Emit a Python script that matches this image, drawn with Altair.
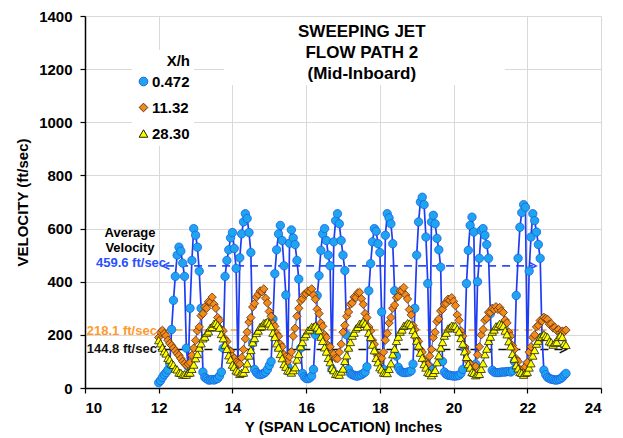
import altair as alt
import pandas as pd

# ---------------- data ----------------
series_labels = ["0.472", "11.32", "28.30"]
x_start = 12.0
x_step = 0.05

blue_v = [
    20, 28, 40, 50, 58, 68, 90, 220, 330, 420, 500, 530, 515, 470, 420, 150, 80, 300, 480, 600,
    575, 530, 440, 300, 60, 40, 35, 30, 30, 32, 30, 33, 36, 45, 60, 150, 420, 480, 520, 565,
    585, 525, 450, 90, 490, 580, 625, 656, 638, 585, 510, 170, 70, 58, 52, 50, 52, 55, 60, 70,
    85, 100, 260, 430, 520, 580, 612, 555, 460, 350, 80, 545, 595, 565, 540, 480, 410, 150, 55, 42,
    36, 35, 38, 45, 70, 200, 348, 423, 518, 580, 600, 555, 500, 460, 70, 550, 630, 656, 618, 555,
    500, 442, 200, 70, 55, 50, 48, 45, 45, 48, 50, 55, 60, 80, 366, 468, 550, 600, 590, 543,
    510, 286, 70, 575, 656, 640, 618, 543, 366, 120, 78, 65, 60, 58, 58, 60, 60, 65, 90, 300,
    500, 625, 700, 718, 690, 568, 393, 80, 625, 650, 618, 563, 520, 455, 100, 60, 52, 48, 48, 46,
    45, 45, 46, 48, 55, 70, 150, 393, 518, 612, 643, 587, 90, 400, 488, 593, 600, 575, 540, 488,
    280, 67, 60, 58, 58, 58, 60, 60, 60, 62, 62, 60, 65, 100, 348, 488, 605, 660, 690, 680,
    90, 440, 568, 656, 630, 587, 540, 488, 192, 67, 50, 40, 36, 33, 32, 30, 30, 32, 35, 40,
    48, 55,
]

orange_v = [
    190, 210, 217, 205, 197, 180, 168, 160, 150, 140, 130, 123, 111, 100, 92, 85, 90, 96, 123, 150,
    179, 215, 230, 272, 280, 305, 300, 325, 322, 342, 315, 300, 265, 255, 220, 215, 185, 175, 145, 138,
    120, 112, 98, 94, 90, 115, 145, 185, 210, 248, 265, 305, 318, 342, 352, 365, 362, 373, 338, 320,
    288, 270, 242, 232, 205, 195, 165, 155, 126, 118, 100, 118, 136, 195, 225, 270, 300, 328, 336, 352,
    355, 365, 362, 373, 350, 334, 296, 280, 245, 232, 200, 190, 160, 155, 130, 128, 112, 110, 135, 165,
    210, 236, 270, 286, 315, 320, 342, 340, 358, 360, 336, 315, 280, 265, 230, 215, 180, 165, 130, 118,
    98, 112, 135, 180, 205, 245, 265, 300, 312, 340, 345, 366, 365, 378, 350, 335, 295, 275, 235, 220,
    185, 175, 145, 135, 105, 98, 88, 120, 145, 190, 210, 250, 260, 290, 296, 316, 318, 334, 330, 340,
    326, 310, 275, 255, 215, 195, 155, 135, 100, 90, 72, 74, 82, 125, 155, 200, 220, 255, 262, 285,
    284, 300, 295, 306, 296, 303, 290, 284, 256, 245, 210, 195, 160, 145, 110, 100, 70, 68, 58, 80,
    96, 135, 155, 190, 200, 230, 236, 254, 252, 266, 262, 258, 240, 242, 226, 228, 216, 220, 208, 214,
    212, 218,
]

yellow_v = [
    180, 168, 152, 138, 130, 113, 107, 93, 87, 73, 70, 58, 57, 50, 52, 50, 57, 58, 72, 88,
    112, 128, 152, 168, 187, 193, 207, 213, 227, 230, 242, 245, 238, 227, 203, 187, 163, 147, 123, 107,
    88, 80, 66, 62, 53, 57, 58, 72, 93, 122, 143, 172, 188, 207, 216, 230, 233, 244, 246, 250,
    243, 232, 208, 192, 168, 152, 128, 112, 90, 80, 66, 64, 58, 67, 78, 107, 128, 157, 173, 194,
    203, 217, 220, 230, 230, 235, 228, 217, 193, 177, 153, 137, 113, 97, 76, 67, 53, 52, 50, 62,
    73, 102, 123, 152, 173, 197, 208, 224, 230, 242, 243, 250, 243, 232, 208, 192, 163, 142, 113, 97,
    78, 70, 58, 57, 56, 72, 93, 127, 148, 177, 193, 212, 220, 234, 236, 244, 243, 237, 218, 202,
    178, 160, 133, 114, 90, 77, 60, 57, 48, 57, 68, 97, 123, 152, 173, 197, 208, 224, 228, 235,
    233, 234, 223, 212, 188, 167, 138, 117, 90, 77, 60, 57, 48, 52, 53, 72, 93, 127, 148, 177,
    193, 212, 220, 232, 233, 242, 238, 234, 216, 202, 176, 157, 128, 110, 86, 74, 60, 57, 50, 57,
    60, 77, 93, 122, 143, 167, 178, 192, 193, 202, 196, 192, 176, 172, 163, 170, 173, 192, 198, 192,
    168, 162,
]

avg_values = [459.6, 218.1, 144.8]
avg_texts = ["459.6 ft/sec", "218.1 ft/sec", "144.8 ft/sec"]
avg_start = [12.2, 12.05, 12.1]
avg_end = [22.15, 23.0, 22.97]

title_lines = ["SWEEPING JET", "FLOW PATH 2", "(Mid-Inboard)"]

# ---------------- styles ----------------
FONT = "Liberation Sans"
line_colors = ["#1f3cf5", "#5f7fd0", "#6f84b0"]
fill_colors = ["#1ea5f0", "#f28a1c", "#ffff00"]
edge_colors = ["#1a60e6", "#5a3010", "#222200"]
shapes = ["circle", "diamond", "triangle-up"]
avg_colors = ["#2a50ff", "#ff9a2e", "#111111"]

n = len(blue_v)
x_pos = [round(x_start + i * x_step, 2) for i in range(n)]
series_values = [blue_v, orange_v, yellow_v]

X_AXIS = alt.Axis(values=list(range(10, 25, 2)), title="Y (SPAN LOCATION) Inches",
                  labelPadding=7, titlePadding=4)
Y_AXIS = alt.Axis(values=list(range(0, 1401, 200)), format="d", title="VELOCITY (ft/sec)",
                  labelPadding=8, titlePadding=8)
X_SCALE = alt.Scale(domain=[10, 24], nice=False, zero=False)
Y_SCALE = alt.Scale(domain=[0, 1400], nice=False)


def xenc(field="x"):
    return alt.X(f"{field}:Q", scale=X_SCALE, axis=X_AXIS)


def yenc(field="v"):
    return alt.Y(f"{field}:Q", scale=Y_SCALE, axis=Y_AXIS)


layers = []

# white box behind the title
box = pd.DataFrame({"x": [13.77], "x2": [21.39], "v": [1139], "v2": [1395]})
layers.append(alt.Chart(box).mark_rect(color="white").encode(
    x=xenc(), x2="x2:Q", y=yenc(), y2="v2:Q"))

# average dashed lines with arrows
for i in range(3):
    d = pd.DataFrame({"x": [avg_start[i], avg_end[i]], "v": [avg_values[i]] * 2})
    layers.append(alt.Chart(d).mark_line(color=avg_colors[i], strokeWidth=1.6,
                                         strokeDash=[8, 6]).encode(x=xenc(), y=yenc()))
for i in [0, 2]:
    dl = pd.DataFrame({"x": [avg_start[i]], "v": [avg_values[i]]})
    dr = pd.DataFrame({"x": [avg_end[i]], "v": [avg_values[i]]})
    layers.append(alt.Chart(dl).mark_point(shape="M 1 -1 L -1 0 L 1 1", size=45, filled=False,
                                           color=avg_colors[i], strokeWidth=1.5, opacity=1).encode(
        x=xenc(), y=yenc()))
    layers.append(alt.Chart(dr).mark_point(shape="M -1 -1 L 1 0 L -1 1", size=45, filled=False,
                                           color=avg_colors[i], strokeWidth=1.5, opacity=1).encode(
        x=xenc(), y=yenc()))

# data series
legend = alt.Legend(title="X/h", orient="none", legendX=47, legendY=34, fillColor="white",
                    titleFont=FONT, titleFontSize=15, titleFontWeight="bold", titleColor="black",
                    titleAnchor="end", labelFont=FONT, labelFontSize=15, labelFontWeight="bold",
                    labelColor="black", symbolSize=75, symbolStrokeWidth=1, rowPadding=10,
                    padding=4, labelOffset=1)
for i in range(3):
    d = pd.DataFrame({"x": x_pos, "v": series_values[i], "series": series_labels[i]})
    layers.append(alt.Chart(d).mark_line(color=line_colors[i],
                                         strokeWidth=1.7 if i == 0 else 1.3).encode(
        x=xenc(), y=yenc()))
    layers.append(alt.Chart(d).mark_point(filled=True, opacity=1, size=70, strokeWidth=0.8).encode(
        x=xenc(), y=yenc(),
        fill=alt.Fill("series:N", scale=alt.Scale(domain=series_labels, range=fill_colors), legend=legend),
        stroke=alt.Stroke("series:N", scale=alt.Scale(domain=series_labels, range=edge_colors), legend=legend),
        shape=alt.Shape("series:N", scale=alt.Scale(domain=series_labels, range=shapes), legend=legend),
    ))

# annotation texts
ann_black = pd.DataFrame({"x": [11.22, 11.22], "v": [585, 528], "t": ["Average", "Velocity"]})
layers.append(alt.Chart(ann_black).mark_text(font=FONT, fontSize=13, fontWeight="bold",
                                             color="black", align="center", baseline="middle").encode(
    x=xenc(), y=yenc(), text="t:N"))
ann_x = [12.2, 11.95, 11.95]
ann_v = [470, 216, 148]
for i in range(3):
    d = pd.DataFrame({"x": [ann_x[i]], "v": [ann_v[i]], "t": [avg_texts[i]]})
    layers.append(alt.Chart(d).mark_text(font=FONT, fontSize=13, fontWeight="bold",
                                         color=avg_colors[i], align="right", baseline="middle").encode(
        x=xenc(), y=yenc(), text="t:N"))

title_df = pd.DataFrame({"x": [17.51] * 3, "v": [1341, 1262, 1183], "t": title_lines})
layers.append(alt.Chart(title_df).mark_text(font=FONT, fontSize=17, fontWeight="bold",
                                            color="black", align="center", baseline="middle").encode(
    x=xenc(), y=yenc(), text="t:N"))

chart = alt.layer(*layers).properties(
    width=516, height=372,
    padding={"left": 85, "top": 16, "right": 22, "bottom": 50},
    autosize=alt.AutoSizeParams(type="none"),
    background="white",
).configure_view(stroke="transparent").configure_axis(
    gridColor="#d9d9d9", gridWidth=1, domainColor="black", domainWidth=1.5,
    tickColor="black", tickSize=5, tickWidth=1.2,
    labelFont=FONT, labelFontSize=15, labelFontWeight="bold", labelColor="black",
    titleFont=FONT, titleFontSize=15, titleFontWeight="bold", titleColor="black",
)

chart.save("out.html", embed_options={"renderer": "svg", "actions": False})
